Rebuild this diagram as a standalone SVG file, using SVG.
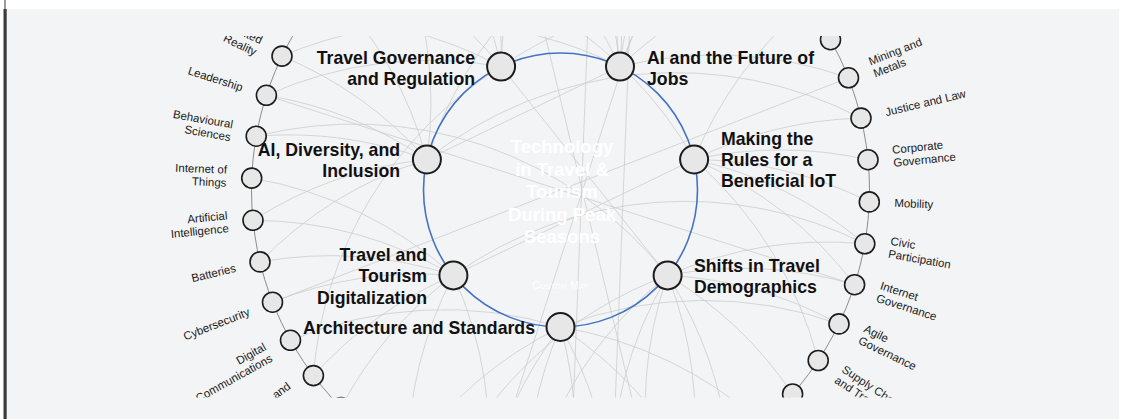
<svg xmlns="http://www.w3.org/2000/svg" width="1125" height="419" viewBox="0 0 1125 419">
  <defs>
    <clipPath id="mapClip"><rect x="7" y="36" width="1112" height="361.5"/></clipPath>
    <style>
      .link { fill: none; stroke: #cdcdcd; stroke-width: 0.8; }
      .ring { fill: none; stroke: #8c8c8c; stroke-width: 1; }
      .hub { fill: none; stroke: #4472c4; stroke-width: 1.6; }
      .topic circle { fill: #e6e7e6; stroke: #1c1c1c; stroke-width: 1.6; }
      .issue circle { fill: #e6e7e6; stroke: #1c1c1c; stroke-width: 2; }
      .tl { font-family: "Liberation Sans", Arial, sans-serif; font-size: 11.5px; fill: #1a1a1a; }
      .end { text-anchor: end; }
      .il { font-family: "Liberation Sans", Arial, sans-serif; font-size: 17.7px; font-weight: bold; fill: #111; }
      .title { font-family: "Liberation Sans", Arial, sans-serif; font-size: 18.5px; font-weight: bold; fill: #fff; text-anchor: middle; }
      .sub { font-family: "Liberation Sans", Arial, sans-serif; font-size: 10px; font-variant: small-caps; letter-spacing: 0.4px; fill: #fff; text-anchor: middle; }
    </style>
  </defs>

  <!-- page and panel -->
  <rect width="1125" height="419" fill="#fff"/>
  <rect x="7" y="9" width="1112" height="410" fill="#f3f4f6"/>
  <rect x="3.5" y="9" width="3.2" height="410" fill="#3a3a3a"/>
  <line x1="5" y1="0" x2="5" y2="9" stroke="#3a3a3a" stroke-width="1"/>

  <g clip-path="url(#mapClip)">
    <!-- links between key issues and related topics -->
    <g id="connectors">
      <path class="link" d="M560.5 327A400 400 0 0 1 762.5 423.8"/>
      <path class="link" d="M560.5 327A400 400 0 0 1 692 469.6"/>
      <path class="link" d="M560.5 327A400 400 0 0 1 611.7 494.7"/>
      <path class="link" d="M560.5 327A400 400 0 0 1 569.7 498.9"/>
      <path class="link" d="M527.6 497.2A400 400 0 0 1 560.5 327"/>
      <path class="link" d="M486.1 489.9A400 400 0 0 1 560.5 327"/>
      <path class="link" d="M407.9 458.7A400 400 0 0 1 560.5 327"/>
      <path class="link" d="M290.5 340.3A400 400 0 0 1 560.5 327"/>
      <path class="link" d="M560.5 327A400 400 0 0 1 839 323.9"/>

      <path class="link" d="M453.4 275.4A400 400 0 0 1 486.1 489.9"/>
      <path class="link" d="M407.9 458.7A400 400 0 0 1 453.4 275.4"/>
      <path class="link" d="M341 407.5A400 400 0 0 1 453.4 275.4"/>
      <path class="link" d="M313.4 375.6A400 400 0 0 1 453.4 275.4"/>
      <path class="link" d="M272.5 302.2A400 400 0 0 1 453.4 275.4"/>
      <path class="link" d="M260 261.9A400 400 0 0 1 453.4 275.4"/>
      <path class="link" d="M253 220.3A400 400 0 0 1 453.4 275.4"/>
      <path class="link" d="M251.7 178.1A400 400 0 0 1 453.4 275.4"/>
      <path class="link" d="M453.4 275.4A400 400 0 0 1 864.8 243.8"/>

      <path class="link" d="M260 261.9A400 400 0 0 1 426.9 159.5"/>
      <path class="link" d="M253 220.3A400 400 0 0 1 426.9 159.5"/>
      <path class="link" d="M256.2 136.2A400 400 0 0 1 426.9 159.5"/>
      <path class="link" d="M266.4 95.3A400 400 0 0 1 426.9 159.5"/>
      <path class="link" d="M282 56.1A400 400 0 0 1 426.9 159.5"/>
      <path class="link" d="M328.4 -14A400 400 0 0 1 426.9 159.5"/>
      <path class="link" d="M392.2 -69.1A400 400 0 0 1 426.9 159.5"/>
      <path class="link" d="M426.9 159.5A400 400 0 0 1 675.1 -97"/>
      <path class="link" d="M426.9 159.5A400 400 0 0 1 861 118.1"/>

      <path class="link" d="M266.4 95.3A400 400 0 0 1 501.1 66.6"/>
      <path class="link" d="M302.8 19.5A400 400 0 0 1 501.1 66.6"/>
      <path class="link" d="M358.5 -43.8A400 400 0 0 1 501.1 66.6"/>
      <path class="link" d="M429 -89.6A400 400 0 0 1 501.1 66.6"/>
      <path class="link" d="M468.3 -104.9A400 400 0 0 1 501.1 66.6"/>
      <path class="link" d="M501.1 66.6A400 400 0 0 1 551.3 -118.9"/>
      <path class="link" d="M501.1 66.6A400 400 0 0 1 807.6 4.4"/>
      <path class="link" d="M313.4 375.6A400 400 0 0 1 501.1 66.6"/>

      <path class="link" d="M468.3 -104.9A400 400 0 0 1 620 66.6"/>
      <path class="link" d="M551.3 -118.9A400 400 0 0 1 620 66.6"/>
      <path class="link" d="M593.4 -117.2A400 400 0 0 1 620 66.6"/>
      <path class="link" d="M620 66.6A400 400 0 0 1 634.9 -109.9"/>
      <path class="link" d="M620 66.6A400 400 0 0 1 675.1 -97"/>
      <path class="link" d="M620 66.6A400 400 0 0 1 713.1 -78.7"/>
      <path class="link" d="M620 66.6A400 400 0 0 1 780 -27.5"/>
      <path class="link" d="M620 66.6A400 400 0 0 1 848.5 77.8"/>
      <path class="link" d="M282 56.1A400 400 0 0 1 620 66.6"/>

      <path class="link" d="M694.1 159.5A400 400 0 0 1 807.6 4.4"/>
      <path class="link" d="M694.1 159.5A400 400 0 0 1 861 118.1"/>
      <path class="link" d="M694.1 159.5A400 400 0 0 1 868 159.7"/>
      <path class="link" d="M694.1 159.5A400 400 0 0 1 869.3 201.9"/>
      <path class="link" d="M694.1 159.5A400 400 0 0 1 864.8 243.8"/>
      <path class="link" d="M694.1 159.5A400 400 0 0 1 854.6 284.7"/>
      <path class="link" d="M694.1 159.5A400 400 0 0 1 818.2 360.5"/>
      <path class="link" d="M358.5 -43.8A400 400 0 0 1 694.1 159.5"/>

      <path class="link" d="M667.6 275.4A400 400 0 0 1 864.8 243.8"/>
      <path class="link" d="M667.6 275.4A400 400 0 0 1 854.6 284.7"/>
      <path class="link" d="M667.6 275.4A400 400 0 0 1 839 323.9"/>
      <path class="link" d="M667.6 275.4A400 400 0 0 1 792.6 394"/>
      <path class="link" d="M667.6 275.4A400 400 0 0 1 728.8 449.1"/>
      <path class="link" d="M667.6 275.4A400 400 0 0 1 692 469.6"/>
      <path class="link" d="M652.7 484.9A400 400 0 0 1 667.6 275.4"/>
      <path class="link" d="M611.7 494.7A400 400 0 0 1 667.6 275.4"/>
      <path class="link" d="M527.6 497.2A400 400 0 0 1 667.6 275.4"/>
      <path class="link" d="M445.9 477A400 400 0 0 1 667.6 275.4"/>
      <path class="link" d="M256.2 136.2A400 400 0 0 1 667.6 275.4"/>

      <!-- topic-to-topic and issue-to-issue links -->
      <path class="link" d="M593.4 -117.2L569.7 498.9"/>
      <path class="link" d="M634.9 -109.9L611.7 494.7"/>
      <path class="link" d="M675.1 -97L486.1 489.9"/>
      <path class="link" d="M509.3 -114.7L652.7 484.9"/>
      <path class="link" d="M848.5 77.8L272.5 302.2"/>
      <path class="link" d="M266.4 95.3L854.6 284.7"/>
      <path class="link" d="M426.9 159.5L620 66.6"/>
      <path class="link" d="M501.1 66.6L667.6 275.4"/>
      <path class="link" d="M453.4 275.4L694.1 159.5"/>
    </g>

    <circle class="ring" cx="560.5" cy="190" r="309"/>
    <circle class="hub" cx="560.5" cy="190" r="137"/>

    <g id="center-topic">
      <text class="title" x="562" y="153.3">Technology</text>
      <text class="title" x="562" y="175.8">in Travel &amp;</text>
      <text class="title" x="562" y="198.3">Tourism</text>
      <text class="title" x="562" y="220.8">During Peak</text>
      <text class="title" x="562" y="243.3">Seasons</text>
      <text class="sub" x="561" y="289">Custom Map</text>
    </g>

    <!-- key issues on the inner circle -->
    <g id="issue-architecture" class="issue">
      <circle cx="560.5" cy="327" r="14"/>
      <text class="il end" x="535" y="334">Architecture and Standards</text>
    </g>
    <g id="issue-digitalization" class="issue">
      <circle cx="453.4" cy="275.4" r="14"/>
      <text class="il end"><tspan x="427" y="261">Travel and</tspan><tspan x="427" y="282.3">Tourism</tspan><tspan x="427" y="303.6">Digitalization</tspan></text>
    </g>
    <g id="issue-diversity" class="issue">
      <circle cx="426.9" cy="159.5" r="14"/>
      <text class="il end"><tspan x="400" y="156">AI, Diversity, and</tspan><tspan x="400" y="177">Inclusion</tspan></text>
    </g>
    <g id="issue-governance" class="issue">
      <circle cx="501.1" cy="66.6" r="14"/>
      <text class="il end"><tspan x="475" y="63.5">Travel Governance</tspan><tspan x="475" y="84.5">and Regulation</tspan></text>
    </g>
    <g id="issue-jobs" class="issue">
      <circle cx="620" cy="66.6" r="14"/>
      <text class="il"><tspan x="647" y="63.5">AI and the Future of</tspan><tspan x="647" y="84.5">Jobs</tspan></text>
    </g>
    <g id="issue-iot" class="issue">
      <circle cx="694.1" cy="159.5" r="14"/>
      <text class="il"><tspan x="721" y="145">Making the</tspan><tspan x="721" y="166">Rules for a</tspan><tspan x="721" y="187">Beneficial IoT</tspan></text>
    </g>
    <g id="issue-demographics" class="issue">
      <circle cx="667.6" cy="275.4" r="14"/>
      <text class="il"><tspan x="694" y="272">Shifts in Travel</tspan><tspan x="694" y="293">Demographics</tspan></text>
    </g>

    <!-- related topics on the outer ring, right side -->
    <g id="topic-42" class="topic"><circle cx="830.5" cy="39.7" r="10"/></g>
    <g id="topic-mining" class="topic">
      <circle cx="848.5" cy="77.8" r="10"/>
      <text class="tl" transform="translate(848.5 77.8) rotate(-21.28)"><tspan x="25" y="-3.5">Mining and</tspan><tspan x="25" y="9.5">Metals</tspan></text>
    </g>
    <g id="topic-justice" class="topic">
      <circle cx="861" cy="118.1" r="10"/>
      <text class="tl" transform="translate(861 118.1) rotate(-13.45)" x="25" y="4">Justice and Law</text>
    </g>
    <g id="topic-corporate" class="topic">
      <circle cx="868" cy="159.7" r="10"/>
      <text class="tl" transform="translate(868 159.7) rotate(-5.63)"><tspan x="25" y="-3.5">Corporate</tspan><tspan x="25" y="9.5">Governance</tspan></text>
    </g>
    <g id="topic-mobility" class="topic">
      <circle cx="869.3" cy="201.9" r="10"/>
      <text class="tl" transform="translate(869.3 201.9) rotate(2.2)" x="25" y="4">Mobility</text>
    </g>
    <g id="topic-civic" class="topic">
      <circle cx="864.8" cy="243.8" r="10"/>
      <text class="tl" transform="translate(864.8 243.8) rotate(10.03)"><tspan x="25" y="-3.5">Civic</tspan><tspan x="25" y="9.5">Participation</tspan></text>
    </g>
    <g id="topic-internet-gov" class="topic">
      <circle cx="854.6" cy="284.7" r="10"/>
      <text class="tl" transform="translate(854.6 284.7) rotate(17.85)"><tspan x="25" y="-3.5">Internet</tspan><tspan x="25" y="9.5">Governance</tspan></text>
    </g>
    <g id="topic-agile" class="topic">
      <circle cx="839" cy="323.9" r="10"/>
      <text class="tl" transform="translate(839 323.9) rotate(25.68)"><tspan x="25" y="-3.5">Agile</tspan><tspan x="25" y="9.5">Governance</tspan></text>
    </g>
    <g id="topic-supply" class="topic">
      <circle cx="818.2" cy="360.5" r="10"/>
      <text class="tl" transform="translate(818.2 360.5) rotate(33.5)"><tspan x="25" y="-3.5">Supply Chain</tspan><tspan x="25" y="9.5">and Transport</tspan></text>
    </g>
    <g id="topic-5" class="topic"><circle cx="792.6" cy="394" r="10"/></g>

    <!-- related topics on the outer ring, left side -->
    <g id="topic-17" class="topic"><circle cx="341" cy="407.5" r="10"/></g>
    <g id="topic-18" class="topic">
      <circle cx="313.4" cy="375.6" r="10"/>
      <text class="tl end" transform="translate(313.4 375.6) rotate(-36.93)" x="-25" y="-3.5">and</text>
    </g>
    <g id="topic-digital-comms" class="topic">
      <circle cx="290.5" cy="340.3" r="10"/>
      <text class="tl end" transform="translate(290.5 340.3) rotate(-29.11)"><tspan x="-25" y="-3.5">Digital</tspan><tspan x="-25" y="9.5">Communications</tspan></text>
    </g>
    <g id="topic-cyber" class="topic">
      <circle cx="272.5" cy="302.2" r="10"/>
      <text class="tl end" transform="translate(272.5 302.2) rotate(-21.28)" x="-25" y="4">Cybersecurity</text>
    </g>
    <g id="topic-batteries" class="topic">
      <circle cx="260" cy="261.9" r="10"/>
      <text class="tl end" transform="translate(260 261.9) rotate(-13.45)" x="-25" y="4">Batteries</text>
    </g>
    <g id="topic-ai" class="topic">
      <circle cx="253" cy="220.3" r="10"/>
      <text class="tl end" transform="translate(253 220.3) rotate(-5.63)"><tspan x="-25" y="-3.5">Artificial</tspan><tspan x="-25" y="9.5">Intelligence</tspan></text>
    </g>
    <g id="topic-iot" class="topic">
      <circle cx="251.7" cy="178.1" r="10"/>
      <text class="tl end" transform="translate(251.7 178.1) rotate(2.2)"><tspan x="-25" y="-3.5">Internet of</tspan><tspan x="-25" y="9.5">Things</tspan></text>
    </g>
    <g id="topic-behavioural" class="topic">
      <circle cx="256.2" cy="136.2" r="10"/>
      <text class="tl end" transform="translate(256.2 136.2) rotate(10.03)"><tspan x="-25" y="-3.5">Behavioural</tspan><tspan x="-25" y="9.5">Sciences</tspan></text>
    </g>
    <g id="topic-leadership" class="topic">
      <circle cx="266.4" cy="95.3" r="10"/>
      <text class="tl end" transform="translate(266.4 95.3) rotate(17.85)" x="-25" y="4">Leadership</text>
    </g>
    <g id="topic-augmented" class="topic">
      <circle cx="282" cy="56.1" r="10"/>
      <text class="tl end" transform="translate(282 56.1) rotate(25.68)"><tspan x="-25" y="-1">Augmented</tspan><tspan x="-25" y="12">Reality</tspan></text>
    </g>
  </g>
</svg>
